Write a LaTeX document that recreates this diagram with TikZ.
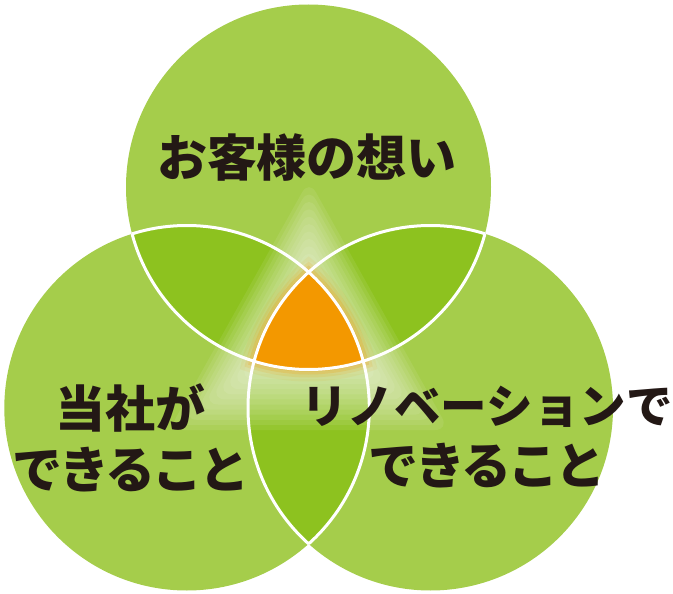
\documentclass[tikz,border=0pt]{standalone}
\usepackage{fontspec}
\newfontfamily\jpfont{Noto Sans CJK JP}
\newfontfamily\jptight{Noto Sans CJK JP}[LetterSpace=-6]
\definecolor{leaf}{HTML}{A5CD4B}
\definecolor{lens}{HTML}{8DC21F}
\definecolor{core}{HTML}{F39800}
\definecolor{ink}{HTML}{231815}

\begin{document}
\begin{tikzpicture}[x=1pt, y=-1pt,
    ring/.style={radius=182.5pt},
    label text/.style={font=\jpfont\bfseries\fontsize{50}{61}\selectfont, text=ink, align=center, inner sep=0pt}]

    \useasboundingbox (0,0) rectangle (673,594);

    % circle centres
    \coordinate (T) at (308.5,187);
    \coordinate (L) at (186.8,408);
    \coordinate (R) at (430.5,408);

    % the three circles
    \fill[leaf] (T) circle[ring] (L) circle[ring] (R) circle[ring];

    % overlaps of two circles
    \begin{scope}
        \clip (T) circle[ring];
        \fill[lens] (L) circle[ring] (R) circle[ring];
    \end{scope}
    \begin{scope}
        \clip (L) circle[ring];
        \fill[lens] (R) circle[ring];
    \end{scope}

    % white glow
    \begin{scope}
        \clip (T) circle[ring] (L) circle[ring] (R) circle[ring];
        \foreach \s in {1.00,0.95,...,0.05} {
            \begin{scope}[shift={(309,328)}, scale=\s]
                \fill[white, opacity=0.08, rounded corners=14pt] (0,-148) -- (-140,102) -- (140,102) -- cycle;
            \end{scope}
        }
    \end{scope}

    % orange glow and centre
    \foreach \d/\o in {12/0.08, 8/0.13, 5/0.2, 2/0.3} {
        \begin{scope}
            \clip (T) circle[radius=182.5pt+\d pt];
            \clip (L) circle[radius=182.5pt+\d pt];
            \fill[core, opacity=\o] (R) circle[radius=182.5pt+\d pt];
        \end{scope}
    }
    \begin{scope}
        \clip (T) circle[ring];
        \clip (L) circle[ring];
        \fill[core] (R) circle[ring];
    \end{scope}

    % white borders inside the overlaps
    \begin{scope}
        \clip (L) circle[ring] (R) circle[ring];
        \draw[white, line width=3pt] (T) circle[ring];
    \end{scope}
    \begin{scope}
        \clip (T) circle[ring] (R) circle[ring];
        \draw[white, line width=3pt] (L) circle[ring];
    \end{scope}
    \begin{scope}
        \clip (T) circle[ring] (L) circle[ring];
        \draw[white, line width=3pt] (R) circle[ring];
    \end{scope}

    % labels
    \node[label text] (wish) at (307,157) {お客様の想い};
    \node[label text] (ours) at (131,437.5) {当社が\\{\jptight\bfseries できること}};
    \node[label text] (reno) at (487,437) {{\fontsize{46.5}{61}\selectfont リノベーションで}\\{\jptight\bfseries できること}};

\end{tikzpicture}
\end{document}
